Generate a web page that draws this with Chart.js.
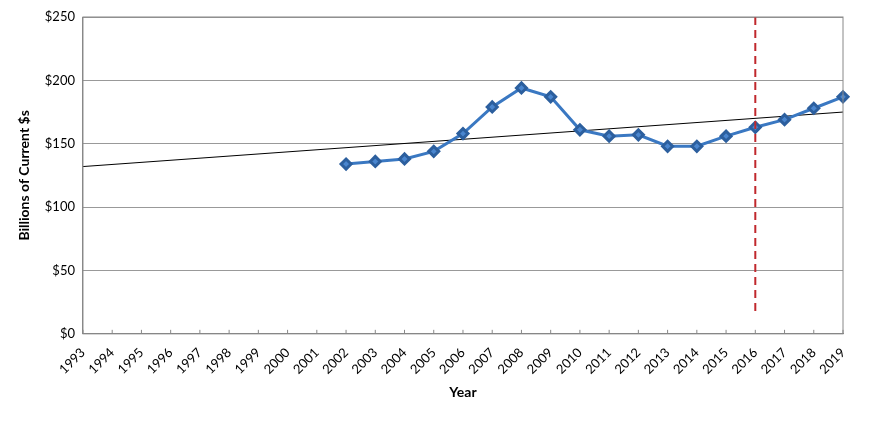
<!DOCTYPE html>
<html><head><script src="https://cdn.jsdelivr.net/npm/chart.js@4"></script>
<style>body{margin:0;background:#fff}#wrap{width:870px;height:421px}</style></head>
<body><div id="wrap"><canvas id="c"></canvas></div>
<script>
const years = ["1993","1994","1995","1996","1997","1998","1999","2000","2001","2002","2003","2004","2005","2006","2007","2008","2009","2010","2011","2012","2013","2014","2015","2016","2017","2018","2019"];
const spending = [null,null,null,null,null,null,null,null,null,134,136,138,144,158,179,194,187,161,156,157,148,148,156,163,169,178,187];
const trendEnds = [132, 175];
const markerYear = "2016";
const markerRange = [14, 250];

const trend = years.map((y, i) => i === 0 ? trendEnds[0] : i === years.length - 1 ? trendEnds[1] : null);

const markerLine = {
  id: "markerLine",
  afterDatasetsDraw(chart) {
    const { ctx, scales: { x, y } } = chart;
    const px = x.getPixelForValue(years.indexOf(markerYear));
    ctx.save();
    ctx.strokeStyle = "#c0282d";
    ctx.lineWidth = 2;
    ctx.setLineDash([8, 5]);
    ctx.beginPath();
    ctx.moveTo(px, y.getPixelForValue(markerRange[1]));
    ctx.lineTo(px, y.getPixelForValue(markerRange[0]));
    ctx.stroke();
    ctx.restore();
  }
};

new Chart(document.getElementById("c"), {
  type: "line",
  data: {
    labels: years,
    datasets: [
      {
        data: trend,
        borderColor: "#000",
        borderWidth: 1,
        pointRadius: 0,
        spanGaps: true,
        order: 2
      },
      {
        data: spending,
        borderColor: "#3a78c2",
        backgroundColor: "#4a86cf",
        pointBorderColor: "#2c5f9e",
        borderWidth: 3,
        pointStyle: "rectRot",
        pointRadius: 5,
        order: 1
      }
    ]
  },
  options: {
    responsive: true,
    maintainAspectRatio: false,
    animation: false,
    layout: { padding: { left: 12, right: 27, top: 17, bottom: 16 } },
    plugins: { legend: { display: false }, tooltip: { enabled: false } },
    scales: {
      x: {
        offset: false,
        grid: { display: false, drawOnChartArea: false },
        border: { color: "#888" },
        ticks: { color: "#000", font: { family: "Lato", size: 13 }, maxRotation: 45, minRotation: 45, autoSkip: false },
        title: { display: true, text: "Year", color: "#000", font: { family: "Lato", size: 14, weight: "bold" } }
      },
      y: {
        min: 0, max: 250,
        grid: { color: "#999", tickLength: 0 },
        border: { color: "#888" },
        ticks: { stepSize: 50, color: "#000", padding: 8, font: { family: "Lato", size: 13 }, callback: v => "$" + v },
        title: { display: true, text: "Billions of Current $s", color: "#000", font: { family: "Lato", size: 14, weight: "bold" } }
      }
    }
  },
  plugins: [markerLine, {
    id: "frame",
    afterDraw(chart) {
      const { ctx, chartArea: a, scales: { x } } = chart;
      ctx.save();
      ctx.strokeStyle = "#888";
      ctx.lineWidth = 1;
      ctx.strokeRect(a.left, a.top, a.right - a.left, a.bottom - a.top);
      ctx.beginPath();
      years.forEach((y, i) => {
        const px = x.getPixelForValue(i);
        ctx.moveTo(px, a.bottom);
        ctx.lineTo(px, a.bottom - 4);
      });
      ctx.stroke();
      ctx.restore();
    }
  }]
});
</script></body></html>
